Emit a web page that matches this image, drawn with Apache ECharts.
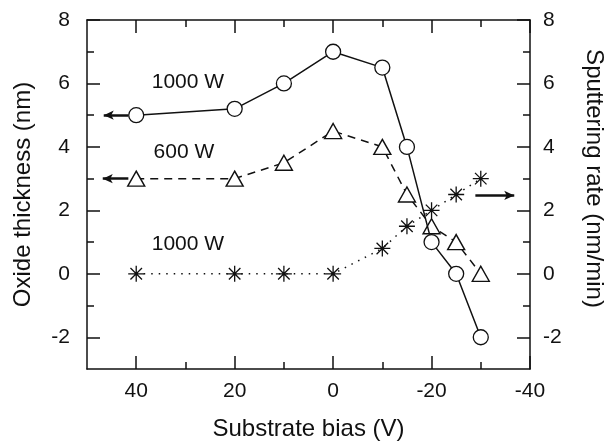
<!DOCTYPE html>
<html><head><meta charset="utf-8">
<script src="https://cdn.jsdelivr.net/npm/echarts@6/dist/echarts.min.js"></script>
<style>html,body{margin:0;padding:0;background:#fff}#c{width:614px;height:446px}</style>
</head><body><div id="c"></div>
<script>
// ---- data ----
const biasValues   = [40, 20, 10, 0, -10, -15, -20, -25, -30];
const oxide1000W   = [5, 5.2, 6, 7, 6.5, 4, 1, 0, -2];
const oxide600W    = [3, 3, 3.5, 4.5, 4, 2.5, 1.5, 1, 0];
const sputter1000W = [0, 0, 0, 0, 0.8, 1.5, 2, 2.5, 3];
const xMajorTicks = [40, 20, 0, -20, -40];
const xMinorTicks = [30, 10, -10, -30];
const yMajorTicks = [-2, 0, 2, 4, 6, 8];
const yMinorTicks = [-1, 1, 3, 5, 7];
const seriesLabels = ['1000 W', '600 W', '1000 W'];
const labelAnchors = [[29.5, 6.03], [30.3, 3.82], [29.5, 0.92]];
const arrowStarts = [[41.6, 5], [41.6, 3], [-28.9, 2.47]];
const arrowEnds   = [[46.6, 5], [46.8, 3], [-36.8, 2.47]];

const INK = '#111';
const FONT = "'Liberation Sans', Arial, Helvetica, sans-serif";

function pts(ys){ return biasValues.map((x,i)=>[x, ys[i]]); }

function xAx(pos, ticks, len, withLabels, showLine){
  return {
    type:'value', position:pos, min:-40, max:50, inverse:true, gridIndex:0,
    axisLine:{show:showLine, onZero:false, lineStyle:{color:INK, width:1.5}},
    axisTick:{show:true, inside:true, length:len, customValues:ticks, lineStyle:{color:INK, width:1.5}},
    axisLabel:{show:withLabels, customValues:ticks, margin:12, color:INK, fontSize:21, fontFamily:FONT},
    splitLine:{show:false}
  };
}
function yAx(pos, ticks, len, withLabels, showLine, extra){
  return Object.assign({
    type:'value', position:pos, min:-3, max:8, gridIndex:0,
    axisLine:{show:showLine, onZero:false, lineStyle:{color:INK, width:1.5}},
    axisTick:{show:true, inside:true, length:len, customValues:ticks, lineStyle:{color:INK, width:1.5}},
    axisLabel:{show:withLabels, customValues:ticks, margin: pos==='left'?17:13, color:INK, fontSize:21, fontFamily:FONT},
    splitLine:{show:false}
  }, extra||{});
}

const xAxes = [
  Object.assign(xAx('bottom', xMajorTicks, 13, true, true), {
    name:'Substrate bias (V)', nameLocation:'middle', nameGap:48,
    nameTextStyle:{color:INK, fontSize:24, fontFamily:FONT}
  }),
  xAx('bottom', xMinorTicks, 7, false, false),
  xAx('top', xMajorTicks, 13, false, true),
  xAx('top', xMinorTicks, 7, false, false)
];
const yAxes = [
  yAx('left', yMajorTicks, 13, true, true, {
    name:'Oxide thickness (nm)', nameLocation:'middle', nameGap:52,
    nameTextStyle:{color:INK, fontSize:24, fontFamily:FONT}
  }),
  yAx('left', yMinorTicks, 7, false, false),
  yAx('right', yMajorTicks, 13, true, true, {
    name:'Sputtering rate (nm/min)', nameLocation:'middle', nameGap:52, nameRotate:-90,
    nameTextStyle:{color:INK, fontSize:24, fontFamily:FONT, padding:[0,32,0,0]}
  }),
  yAx('right', yMinorTicks, 7, false, false)
];

function arrowLine(i){
  return {
    silent:true, symbol:['none','arrow'], symbolSize:[7,10], animation:false,
    lineStyle:{color:INK, width:2.5, type:'solid'}, label:{show:false},
    itemStyle:{color:INK},
    emphasis:{disabled:true},
    data:[[{coord:arrowStarts[i]}, {coord:arrowEnds[i]}]]
  };
}
function textMark(i){
  return {
    silent:true, symbol:'circle', symbolSize:0, animation:false,
    label:{show:true, position:'inside', formatter:seriesLabels[i], color:INK, fontSize:21, fontFamily:FONT},
    itemStyle:{color:'transparent'},
    data:[{coord:labelAnchors[i]}]
  };
}

const starPath = 'path://M0,-1L0,1M-1,0L1,0M-0.72,-0.72L0.72,0.72M-0.72,0.72L0.72,-0.72';

const option = {
  animation:false,
  backgroundColor:'#fff',
  grid:{left:87, right:75, top:20, bottom:74, containLabel:false},
  xAxis:xAxes,
  yAxis:yAxes,
  series:[
    {
      type:'line', name:'1000 W oxide', data:pts(oxide1000W), xAxisIndex:0, yAxisIndex:0,
      symbol:'circle', symbolSize:15, z:5,
      itemStyle:{color:'#fff', borderColor:INK, borderWidth:1.3},
      lineStyle:{color:INK, width:1.5},
      markLine:arrowLine(0), markPoint:textMark(0)
    },
    {
      type:'line', name:'600 W oxide', data:pts(oxide600W), xAxisIndex:0, yAxisIndex:0,
      symbol:'triangle', symbolSize:[17,15], z:4,
      itemStyle:{color:'#fff', borderColor:INK, borderWidth:1.4},
      lineStyle:{color:INK, width:1.5, type:[8,6]},
      markLine:arrowLine(1), markPoint:textMark(1)
    },
    {
      type:'line', name:'1000 W sputtering', data:pts(sputter1000W), xAxisIndex:0, yAxisIndex:2,
      symbol:starPath, symbolSize:16, z:3,
      itemStyle:{color:'none', borderColor:INK, borderWidth:1.3},
      lineStyle:{color:INK, width:1.5, type:[1.5,6]},
      markLine:arrowLine(2), markPoint:textMark(2)
    }
  ]
};
echarts.init(document.getElementById('c'), null, {renderer:'canvas'}).setOption(option);
</script></body></html>
